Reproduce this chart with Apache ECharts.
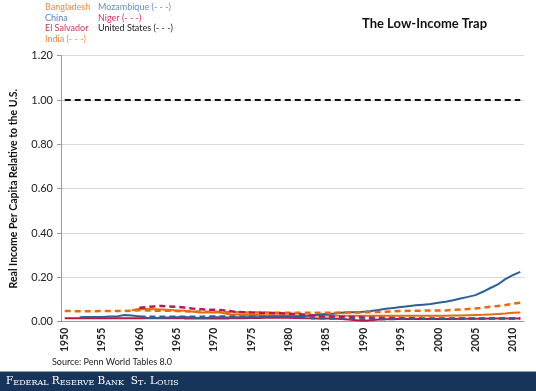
<!DOCTYPE html>
<html><head><meta charset="utf-8">
<script src="https://cdn.jsdelivr.net/npm/echarts@6/dist/echarts.min.js"></script>
<style>html,body{margin:0;padding:0;background:#fff}#c{width:536px;height:391px}</style>
</head><body><div id="c"></div>
<script>
const years = [];
for (let y = 1950; y <= 2011; y++) years.push(String(y));
const yTicks = ['0.00','0.20','0.40','0.60','0.80','1.00','1.20'];
const N = null;
// 1950..2011
const china = [N,N,0.020,0.021,0.021,0.021,0.023,0.024,0.030,0.028,
 0.024,0.018,0.017,0.018,0.019,0.020,0.021,0.019,0.017,0.018,
 0.020,0.020,0.019,0.020,0.020,0.021,0.020,0.021,0.022,0.023,
 0.023,0.024,0.026,0.028,0.032,0.035,0.037,0.040,0.043,0.043,
 0.045,0.048,0.053,0.058,0.062,0.066,0.070,0.074,0.077,0.080,
 0.085,0.090,0.097,0.105,0.112,0.120,0.135,0.152,0.168,0.192,
 0.210,0.225];
const bangladesh = [N,N,N,N,N,N,N,N,N,0.052,
 0.058,0.057,0.056,0.055,0.053,0.051,0.049,0.046,0.042,0.041,
 0.043,0.040,0.034,0.032,0.031,0.030,0.030,0.029,0.029,0.029,
 0.029,0.028,0.028,0.028,0.028,0.028,0.028,0.027,0.027,0.027,
 0.027,0.027,0.027,0.027,0.027,0.027,0.027,0.027,0.027,0.027,
 0.027,0.027,0.028,0.028,0.029,0.030,0.031,0.033,0.035,0.037,
 0.040,0.042];
const elSalvador = [0.016,0.016,0.016,0.016,0.016,0.016,0.016,0.016,0.016,0.016,
 0.016,0.016,0.016,0.016,0.016,0.016,0.015,0.015,0.015,0.014,
 0.014,0.015,0.015,0.016,0.016,0.017,0.017,0.018,0.018,0.018,
 0.018,0.017,0.016,0.015,0.015,0.015,0.014,0.012,0.010,0.006,
 0.004,0.007,0.010,0.011,0.012,0.012,0.012,0.012,0.012,0.012,
 0.012,0.012,0.012,0.013,0.013,0.013,0.013,0.014,0.014,0.014,
 0.014,0.014];
const india = [0.048,0.048,0.047,0.047,0.047,0.048,0.048,0.048,0.048,0.050,
 0.052,0.051,0.050,0.049,0.049,0.048,0.047,0.046,0.046,0.045,
 0.045,0.044,0.043,0.043,0.042,0.042,0.041,0.041,0.040,0.040,
 0.040,0.040,0.040,0.040,0.040,0.040,0.040,0.041,0.041,0.042,
 0.042,0.043,0.044,0.045,0.047,0.048,0.049,0.049,0.050,0.050,
 0.050,0.051,0.053,0.055,0.057,0.060,0.063,0.067,0.071,0.075,
 0.081,0.086];
const mozambique = [N,N,N,N,N,N,N,N,N,N,
 0.024,0.024,0.024,0.024,0.024,0.024,0.024,0.024,0.024,0.024,
 0.025,0.025,0.025,0.024,0.024,0.024,0.024,0.023,0.023,0.022,
 0.022,0.020,0.018,0.016,0.015,0.014,0.013,0.012,0.012,0.012,
 0.011,0.011,0.011,0.011,0.011,0.012,0.012,0.012,0.013,0.013,
 0.013,0.013,0.014,0.014,0.014,0.015,0.015,0.015,0.016,0.016,
 0.016,0.017];
const niger = [N,N,N,N,N,N,N,N,N,N,
 0.063,0.066,0.069,0.071,0.069,0.067,0.064,0.060,0.057,0.054,
 0.054,0.052,0.048,0.044,0.043,0.042,0.040,0.040,0.039,0.038,
 0.036,0.034,0.032,0.028,0.024,0.024,0.023,0.022,0.021,0.020,
 0.019,0.018,0.018,0.017,0.017,0.016,0.016,0.016,0.015,0.015,
 0.015,0.015,0.015,0.015,0.015,0.015,0.015,0.015,0.015,0.015,
 0.015,0.015];
const us = years.map(() => 1.0);

const FONT = 'Lato';
const C_OR = '#E46C0A', C_BL = '#2E5F98', C_RD = '#C0143C', C_NG = '#B8185A';

function ln(name, data, color, dashed, w) {
  return {name, type:'line', data, symbol:'none', connectNulls:false,
    lineStyle:{color, width:w, type: dashed ? [6,4] : 'solid'}, itemStyle:{color}, z: dashed?3:2, silent:true};
}

const chart = echarts.init(document.getElementById('c'), null, {renderer:'canvas'});
const legendItems = [
  ['Bangladesh', '#F08A3A', 45, 8.5], ['China', '#5B80B8', 45, 19.3], ['El Salvador', '#C8385A', 45, 30], ['India (- - -)', '#F08A3A', 45, 40.8],
  ['Mozambique (- - -)', '#6A8CC0', 98, 8.5], ['Niger (- - -)', '#C8386A', 98, 19.3], ['United States (- - -)', '#222', 98, 30]
];
chart.setOption({
  animation:false,
  grid:{left:56, right:12, top:55.7, bottom:69.3},
  xAxis:{type:'category', data:years, boundaryGap:true,
    axisLine:{lineStyle:{color:'#9a9a9a'}},
    axisTick:{interval:4, length:4, lineStyle:{color:'#9a9a9a'}},
    axisLabel:{interval:4, rotate:90, fontFamily:FONT, fontSize:10.5, fontWeight:'bold', color:'#222', margin:6}},
  yAxis:{type:'value', min:0, max:1.2, interval:0.2,
    name:'Real Income Per Capita Relative to the U.S.', nameLocation:'middle', nameGap:42, nameRotate:90,
    nameTextStyle:{fontFamily:FONT, fontSize:10.5, fontWeight:'bold', color:'#111'},
    axisLine:{show:true, lineStyle:{color:'#9a9a9a'}},
    axisTick:{show:true, length:4, lineStyle:{color:'#9a9a9a'}},
    splitLine:{lineStyle:{color:'#d9d9d9', width:1}},
    axisLabel:{fontFamily:FONT, fontSize:11, color:'#222', margin:8, formatter:(v)=>yTicks[Math.round(v/0.2)]}},
  series:[
    ln('United States', us, '#111', true, 2),
    ln('India', india, C_OR, true, 2.5),
    ln('Niger', niger, C_NG, true, 2.5),
    ln('Mozambique', mozambique, C_BL, true, 2),
    ln('Bangladesh', bangladesh, C_OR, false, 2),
    ln('El Salvador', elSalvador, C_RD, false, 2),
    ln('China', china, C_BL, false, 2)
  ],
  graphic:[
    ...legendItems.map(([t,c,x,y]) => ({type:'text', left:x, top:y-6, style:{text:t, fill:c, font:'9px '+FONT}})),
    {type:'text', left:362, top:17, style:{text:'The Low-Income Trap', fill:'#111', font:'bold 13px '+FONT}},
    {type:'text', left:52, top:358, style:{text:'Source: Penn World Tables 8.0', fill:'#222', font:'9px '+FONT}},
    {type:'rect', shape:{x:0, y:371, width:536, height:1}, style:{fill:'#8ca0b4'}},
    {type:'rect', shape:{x:0, y:372, width:536, height:19}, style:{fill:'#17345A'}},
    {type:'text', left:6, top:375, style:{
      text:'{b|F}{s|EDERAL} {b|R}{s|ESERVE} {b|B}{s|ANK}  {b|S}{s|T}{b|. L}{s|OUIS}',
      rich:{b:{fontFamily:'DejaVu Serif', fontSize:10.5, fill:'#fff', color:'#fff', verticalAlign:'bottom'},
            s:{fontFamily:'DejaVu Serif', fontSize:8, fill:'#fff', color:'#fff', verticalAlign:'bottom'}}}}
  ]
});
</script></body></html>
